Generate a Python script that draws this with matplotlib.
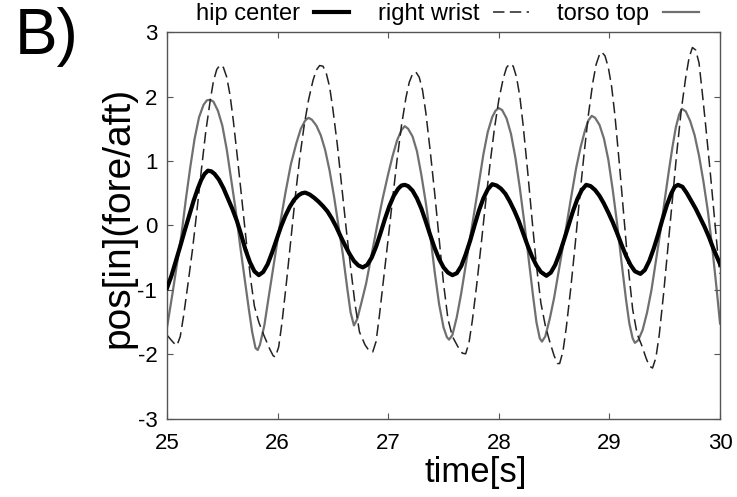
import numpy as np
import matplotlib
matplotlib.use('Agg')
import matplotlib.pyplot as plt

plt.rcParams['font.family'] = ['Liberation Sans', 'DejaVu Sans']
plt.rcParams['axes.unicode_minus'] = False

# hip center (thick black)
hip_t = [25.00, 25.04, 25.08, 25.12, 25.16, 25.20, 25.24, 25.28, 25.31, 25.34, 25.37, 25.40, 25.43, 25.47,
         25.51, 25.55, 25.59, 25.63, 25.67, 25.71, 25.75, 25.79, 25.83, 25.87, 25.91, 25.95, 25.99, 26.03,
         26.07, 26.11, 26.15, 26.19, 26.22, 26.25, 26.29, 26.33, 26.37, 26.41, 26.45, 26.49, 26.53, 26.57,
         26.61, 26.65, 26.69, 26.73, 26.77, 26.81, 26.85, 26.89, 26.93, 26.97, 27.01, 27.05, 27.09, 27.12,
         27.15, 27.18, 27.22, 27.26, 27.30, 27.34, 27.38, 27.42, 27.46, 27.50, 27.54, 27.58, 27.62, 27.66,
         27.70, 27.74, 27.78, 27.82, 27.86, 27.90, 27.94, 27.98, 28.02, 28.06, 28.10, 28.14, 28.18, 28.22,
         28.26, 28.30, 28.34, 28.38, 28.43, 28.47, 28.51, 28.55, 28.59, 28.63, 28.67, 28.71, 28.75, 28.79,
         28.83, 28.87, 28.91, 28.95, 28.99, 29.03, 29.07, 29.11, 29.15, 29.19, 29.23, 29.28, 29.32, 29.36,
         29.40, 29.44, 29.48, 29.52, 29.56, 29.59, 29.62, 29.66, 29.70, 29.74, 29.78, 29.82, 29.86, 29.90,
         29.94, 29.98, 30.00]
hip_y = [-0.97, -0.78, -0.55, -0.32, -0.08, 0.15, 0.38, 0.58, 0.71, 0.80, 0.85, 0.84, 0.80, 0.71,
         0.58, 0.42, 0.26, 0.08, -0.14, -0.38, -0.57, -0.71, -0.77, -0.72, -0.60, -0.42, -0.22, -0.02,
         0.15, 0.29, 0.40, 0.47, 0.50, 0.51, 0.48, 0.43, 0.37, 0.30, 0.22, 0.11, -0.02, -0.17,
         -0.31, -0.44, -0.55, -0.62, -0.65, -0.61, -0.50, -0.33, -0.12, 0.10, 0.30, 0.46, 0.57, 0.62,
         0.63, 0.61, 0.54, 0.42, 0.26, 0.06, -0.15, -0.35, -0.52, -0.65, -0.73, -0.77, -0.74, -0.63,
         -0.45, -0.24, 0.00, 0.23, 0.42, 0.56, 0.64, 0.62, 0.57, 0.49, 0.37, 0.23, 0.07, -0.12,
         -0.31, -0.48, -0.62, -0.72, -0.78, -0.73, -0.61, -0.43, -0.22, 0.00, 0.22, 0.41, 0.55, 0.63,
         0.61, 0.55, 0.46, 0.34, 0.20, 0.05, -0.12, -0.30, -0.47, -0.61, -0.71, -0.75, -0.69, -0.55,
         -0.36, -0.14, 0.10, 0.32, 0.50, 0.60, 0.63, 0.60, 0.50, 0.38, 0.26, 0.12, -0.02, -0.18,
         -0.36, -0.52, -0.60]

# right wrist (dashed)
wrist_t = [25.00, 25.03, 25.06, 25.09, 25.12, 25.15, 25.19, 25.23, 25.27, 25.31, 25.35, 25.39, 25.42, 25.45,
           25.48, 25.51, 25.54, 25.57, 25.60, 25.64, 25.68, 25.72, 25.76, 25.79, 25.83, 25.88, 25.93, 25.96,
           25.98, 26.01, 26.04, 26.08, 26.12, 26.16, 26.20, 26.24, 26.28, 26.32, 26.35, 26.38, 26.41, 26.44,
           26.47, 26.50, 26.54, 26.58, 26.62, 26.66, 26.70, 26.74, 26.79, 26.83, 26.86, 26.89, 26.92, 26.96,
           27.00, 27.04, 27.08, 27.12, 27.16, 27.19, 27.22, 27.25, 27.28, 27.31, 27.34, 27.38, 27.42, 27.46,
           27.50, 27.54, 27.58, 27.63, 27.67, 27.70, 27.73, 27.76, 27.80, 27.84, 27.88, 27.92, 27.96, 28.00,
           28.04, 28.07, 28.10, 28.13, 28.16, 28.19, 28.22, 28.26, 28.30, 28.34, 28.38, 28.42, 28.46, 28.50,
           28.53, 28.55, 28.58, 28.61, 28.65, 28.69, 28.73, 28.77, 28.81, 28.85, 28.88, 28.91, 28.93, 28.96,
           28.99, 29.02, 29.05, 29.09, 29.13, 29.17, 29.21, 29.25, 29.29, 29.33, 29.36, 29.39, 29.42, 29.45,
           29.49, 29.53, 29.57, 29.61, 29.65, 29.69, 29.72, 29.75, 29.78, 29.81, 29.84, 29.87, 29.91, 29.95,
           29.98, 30.00]
wrist_y = [-1.70, -1.76, -1.82, -1.86, -1.72, -1.40, -0.90, -0.38, 0.22, 0.85, 1.45, 1.93, 2.24, 2.42,
           2.49, 2.45, 2.30, 2.02, 1.62, 1.00, 0.35, -0.30, -0.88, -1.25, -1.50, -1.72, -1.92, -2.02,
           -2.04, -1.88, -1.50, -0.88, -0.22, 0.45, 1.05, 1.55, 1.95, 2.25, 2.41, 2.48, 2.47, 2.36,
           2.15, 1.80, 1.25, 0.60, -0.05, -0.65, -1.22, -1.65, -1.85, -1.95, -1.96, -1.80, -1.40, -0.80,
           -0.20, 0.42, 1.02, 1.55, 1.98, 2.22, 2.35, 2.38, 2.30, 2.10, 1.75, 1.15, 0.50, -0.20,
           -0.90, -1.45, -1.72, -1.88, -1.98, -1.99, -1.82, -1.48, -0.92, -0.30, 0.35, 0.95, 1.50, 1.95,
           2.28, 2.45, 2.51, 2.47, 2.30, 2.00, 1.55, 0.85, 0.10, -0.62, -1.20, -1.55, -1.80, -2.02,
           -2.14, -2.14, -1.95, -1.58, -0.98, -0.30, 0.42, 1.10, 1.72, 2.22, 2.50, 2.65, 2.69, 2.63,
           2.45, 2.15, 1.70, 0.95, 0.15, -0.65, -1.30, -1.68, -1.85, -2.05, -2.18, -2.21, -2.05, -1.70,
           -1.05, -0.32, 0.42, 1.15, 1.80, 2.30, 2.60, 2.76, 2.72, 2.52, 2.05, 1.55, 0.85, 0.10,
           -0.45, -0.75]

# torso top (gray)
torso_t = [25.00, 25.05, 25.09, 25.13, 25.17, 25.21, 25.25, 25.29, 25.33, 25.36, 25.39, 25.42, 25.46, 25.50,
           25.54, 25.58, 25.62, 25.66, 25.70, 25.74, 25.77, 25.80, 25.82, 25.84, 25.88, 25.92, 25.97, 26.02,
           26.07, 26.12, 26.17, 26.21, 26.25, 26.28, 26.31, 26.35, 26.39, 26.43, 26.47, 26.51, 26.55, 26.59,
           26.63, 26.66, 26.69, 26.72, 26.76, 26.80, 26.85, 26.90, 26.95, 27.00, 27.04, 27.08, 27.12, 27.15,
           27.18, 27.22, 27.26, 27.30, 27.34, 27.38, 27.42, 27.46, 27.50, 27.53, 27.55, 27.58, 27.62, 27.66,
           27.71, 27.76, 27.81, 27.86, 27.90, 27.94, 27.97, 28.00, 28.03, 28.07, 28.11, 28.15, 28.19, 28.23,
           28.27, 28.31, 28.34, 28.37, 28.39, 28.42, 28.46, 28.50, 28.55, 28.60, 28.65, 28.70, 28.74, 28.78,
           28.81, 28.84, 28.87, 28.91, 28.95, 28.99, 29.03, 29.07, 29.11, 29.15, 29.18, 29.21, 29.23, 29.26,
           29.30, 29.34, 29.38, 29.42, 29.46, 29.50, 29.54, 29.57, 29.60, 29.63, 29.655, 29.69, 29.73, 29.77,
           29.81, 29.85, 29.89, 29.93, 29.97, 30.00]
torso_y = [-1.58, -1.05, -0.60, -0.15, 0.40, 0.90, 1.35, 1.68, 1.87, 1.94, 1.95, 1.92, 1.78, 1.55,
           1.18, 0.72, 0.25, -0.30, -0.80, -1.30, -1.65, -1.90, -1.93, -1.85, -1.55, -1.10, -0.55, 0.00,
           0.50, 0.95, 1.28, 1.50, 1.63, 1.67, 1.64, 1.55, 1.40, 1.17, 0.85, 0.45, 0.00, -0.45,
           -0.98, -1.35, -1.55, -1.45, -1.18, -0.90, -0.45, 0.00, 0.42, 0.80, 1.08, 1.32, 1.48, 1.54,
           1.50, 1.38, 1.15, 0.78, 0.35, -0.15, -0.72, -1.22, -1.58, -1.73, -1.77, -1.70, -1.42, -1.05,
           -0.52, 0.00, 0.55, 1.10, 1.45, 1.68, 1.78, 1.82, 1.79, 1.66, 1.42, 1.05, 0.58, 0.05,
           -0.52, -1.10, -1.50, -1.75, -1.80, -1.72, -1.45, -1.12, -0.62, -0.12, 0.40, 0.90, 1.22, 1.48,
           1.63, 1.70, 1.67, 1.56, 1.35, 1.02, 0.55, 0.02, -0.58, -1.15, -1.52, -1.75, -1.82, -1.78,
           -1.62, -1.35, -1.00, -0.55, -0.10, 0.40, 0.88, 1.22, 1.52, 1.72, 1.81, 1.77, 1.62, 1.40,
           1.08, 0.68, 0.22, -0.35, -1.00, -1.52]

fig = plt.figure(figsize=(7.37, 4.97), dpi=100)
ax = fig.add_axes([0.2266, 0.157, 0.7504, 0.7786])

ax.plot(hip_t, hip_y, color='black', linewidth=3.0, label='hip center', zorder=3)
ax.plot(wrist_t, wrist_y, color='#222222', linewidth=1.1, dashes=(7.5, 3.5), label='right wrist', zorder=2)
ax.plot(torso_t, torso_y, color='#707070', linewidth=1.6, label='torso top', zorder=1)

ax.set_xlim(25, 30)
ax.set_ylim(-3, 3)
ax.set_xticks(range(25, 31))
ax.set_yticks(range(-3, 4))
ax.tick_params(direction='in', length=4, width=0.8, color='#555555', labelsize=16,
               top=True, right=True)
ax.tick_params(axis='x', pad=10)
ax.tick_params(axis='y', pad=7)
for s in ax.spines.values():
    s.set_color('#555555')
    s.set_linewidth(1.0)

ax.set_xlabel('time[s]', fontsize=25)
ax.xaxis.set_label_coords(0.559, -0.095)
ax.set_ylabel('pos[in](fore/aft)', fontsize=28)
ax.yaxis.set_label_coords(-0.055, 0.52)

fig.legend(loc='center', bbox_to_anchor=(0.607, 0.972), ncol=3, frameon=False,
           markerfirst=False, fontsize=17, handlelength=1.5, handletextpad=0.6,
           columnspacing=1.2, borderpad=0, borderaxespad=0)

fig.text(0.02, 0.985, 'B)', fontsize=46, va='top', ha='left')

fig.savefig('out.png', dpi=100)
